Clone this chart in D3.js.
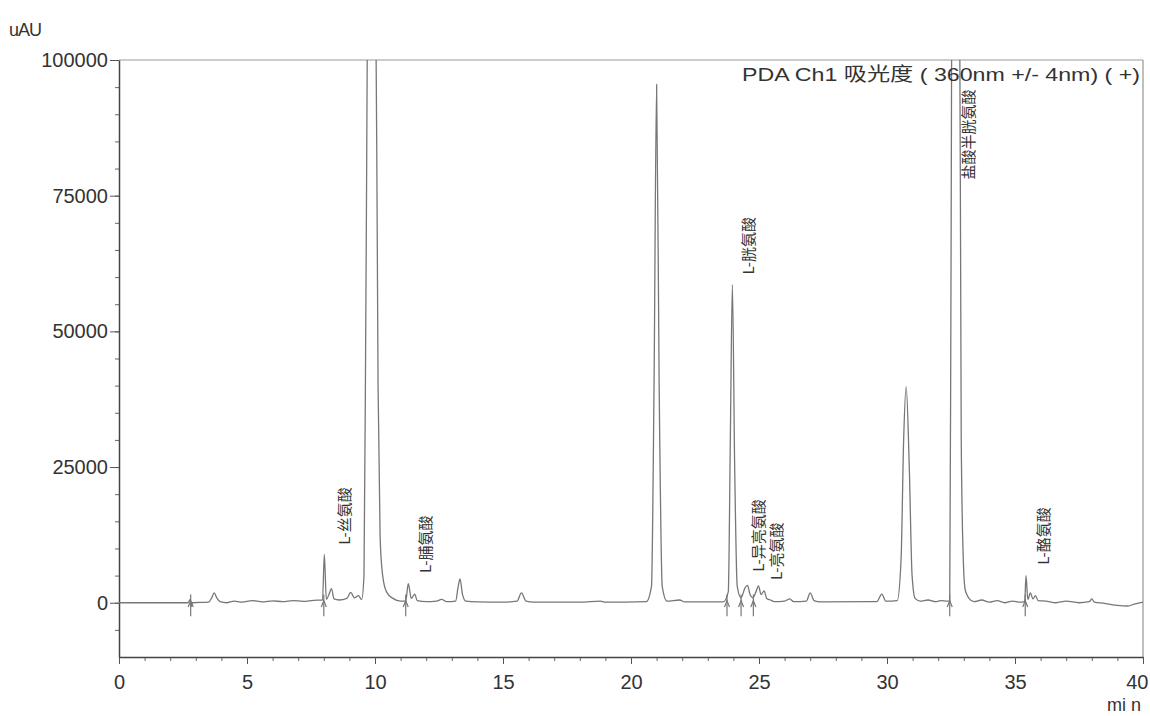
<!DOCTYPE html>
<html>
<head>
<meta charset="utf-8">
<script src="https://cdn.jsdelivr.net/npm/d3@7"></script>
<style>
  body { margin: 0; background: #fff; }
  svg { display: block; font-family: "Liberation Sans", Arial, sans-serif; }
</style>
</head>
<body>
<svg id="svg" width="1150" height="716"></svg>
<script>
// chromatogram trace (min, uAU)
const traceTime = [
  0, 2.7, 2.78, 2.82, 2.86, 3.5, 3.62, 3.72, 3.82, 3.95, 4.2, 4.5, 4.8, 5.2, 5.6, 6.0, 6.4, 6.8, 7.2, 7.6,
  7.95, 8.02, 8.1, 8.2, 8.3, 8.4, 8.6, 8.9, 9.05, 9.2, 9.35, 9.48, 9.57, 9.65, 9.75, 10.0, 10.12, 10.2, 10.3, 10.45,
  10.7, 11.0, 11.2, 11.3, 11.42, 11.55, 11.65, 12.0, 12.4, 12.6, 12.8, 13.15, 13.25, 13.32, 13.42, 13.55, 14.0, 15.0, 15.55, 15.72,
  15.9, 16.2, 18.0, 18.8, 19.0, 20.6, 20.8, 20.9, 21.0, 21.1, 21.22, 21.4, 21.9, 22.1, 23.6, 23.8, 23.88, 23.96, 24.05, 24.15,
  24.3, 24.45, 24.55, 24.65, 24.75, 24.88, 24.98, 25.08, 25.2, 25.3, 25.45, 25.6, 26.0, 26.2, 26.35, 26.85, 27.0, 27.15, 27.4, 29.6,
  29.8, 29.95, 30.4, 30.55, 30.65, 30.75, 30.87, 30.98, 31.1, 31.3, 31.6, 31.9, 32.1, 32.35, 32.45, 32.5, 32.55, 32.82, 32.9, 32.98,
  33.05, 33.12, 33.2, 33.4, 33.7, 34.0, 34.3, 34.6, 34.9, 35.2, 35.38, 35.43, 35.5, 35.6, 35.7, 35.8, 35.9, 36.2, 36.6, 37.0,
  37.5, 37.9, 38.0, 38.1, 38.5, 39.0, 39.4, 39.7, 40.0
];
const traceUAU = [
  0, 0, 600, -700, 0, 100, 900, 1800, 900, 200, 0, 300, 100, 400, 150, 350, 200, 400, 250, 450,
  500, 8900, 600, 1500, 2600, 700, 500, 800, 1900, 900, 1300, 600, 5000, 60000, 130000, 130000, 40000, 12000, 5000, 2000,
  800, 300, 300, 3500, 800, 1600, 400, 200, 300, 600, 200, 300, 3000, 4400, 1500, 300, 150, 100, 300, 1800,
  300, 100, 100, 300, 100, 200, 3000, 40000, 95500, 40000, 3000, 300, 500, 150, 150, 2000, 30000, 58600, 25000, 3000,
  900, 2700, 3200, 1500, 900, 2000, 3100, 1500, 2200, 800, 500, 200, 300, 700, 200, 300, 1800, 400, 150, 200,
  1600, 300, 400, 8000, 30000, 39800, 25000, 5000, 800, 300, 500, 200, 400, 300, 300, 60000, 130000, 130000, 30000, 8000,
  2500, 1500, 800, 200, 500, 100, 400, 0, 300, 100, 200, 5000, 600, 1800, 700, 1300, 400, 300, 0, 300,
  0, 200, 700, 100, -100, -500, -600, -200, 100
];

// integration start marks
const markTimes = [2.8, 8.0, 11.2, 23.75, 24.3, 24.78, 32.45, 35.4];

// peak names and where they sit
const peakNames = ["L-丝氨酸", "L-脯氨酸", "L-胱氨酸", "L-异亮氨酸", "L-亮氨酸", "盐酸半胱氨酸", "L-酪氨酸"];
const peakLabelTimes = [8.75, 11.95, 24.57, 24.96, 25.66, 33.16, 36.09];
const peakLabelUAU = [10700, 5500, 60500, 5700, 4200, 78000, 7000];

const xTicks = [0, 5, 10, 15, 20, 25, 30, 35, 40];
const yTicks = [0, 25000, 50000, 75000, 100000];
const titleText = "PDA Ch1 吸光度 ( 360nm +/-  4nm) ( +)";

let svg = d3.select("#svg");
const plotLeft = 119, plotRight = 1143, plotTop = 60, plotBottom = 657;

let x = d3.scaleLinear().domain([0, 40]).range([plotLeft, plotRight]);
let y = d3.scaleLinear().domain([-10000, 100000]).range([plotBottom, plotTop]);

svg.append("defs").append("clipPath").attr("id", "plot")
    .append("rect").attr("x", plotLeft).attr("y", plotTop)
    .attr("width", plotRight - plotLeft).attr("height", plotBottom - plotTop);

// frame (top/right lighter)
svg.append("line").attr("x1", plotLeft).attr("x2", plotRight).attr("y1", plotTop).attr("y2", plotTop)
    .attr("stroke", "#999").attr("stroke-width", 1.2);
svg.append("line").attr("x1", plotRight).attr("x2", plotRight).attr("y1", plotTop).attr("y2", plotBottom)
    .attr("stroke", "#aaa").attr("stroke-width", 1.5);

// x axis: minor then major
svg.append("g").attr("transform", `translate(0,${plotBottom})`)
    .call(d3.axisBottom(x).tickValues(d3.range(0, 41, 1)).tickSize(4).tickFormat(""))
    .call(g => g.select(".domain").remove())
    .selectAll("line").attr("stroke", "#666");
let xAxis = svg.append("g").attr("transform", `translate(0,${plotBottom})`)
    .call(d3.axisBottom(x).tickValues(xTicks).tickSize(7).tickSizeOuter(0).tickPadding(11));
xAxis.select(".domain").attr("stroke", "#444").attr("stroke-width", 1.5);
xAxis.selectAll("line").attr("stroke", "#555");
xAxis.selectAll("text").attr("font-size", 20).attr("fill", "#333")
    .attr("font-family", "Liberation Sans, Arial, sans-serif");
// last label sits left of its tick so it stays on the page
xAxis.selectAll("text").filter(d => d === 40).attr("text-anchor", "end").attr("x", 5);

// y axis
svg.append("g").attr("transform", `translate(${plotLeft},0)`)
    .call(d3.axisLeft(y).tickValues(d3.range(-5000, 100001, 5000)).tickSize(4).tickFormat(""))
    .call(g => g.select(".domain").remove())
    .selectAll("line").attr("stroke", "#666");
let yAxis = svg.append("g").attr("transform", `translate(${plotLeft},0)`)
    .call(d3.axisLeft(y).tickValues(yTicks).tickSize(9).tickSizeOuter(0).tickPadding(2).tickFormat(d3.format("d")));
yAxis.select(".domain").attr("stroke", "#444").attr("stroke-width", 1.5);
yAxis.selectAll("line").attr("stroke", "#555");
yAxis.selectAll("text").attr("font-size", 20).attr("fill", "#333")
    .attr("font-family", "Liberation Sans, Arial, sans-serif");

svg.append("text").attr("x", 9).attr("y", 36).attr("font-size", 18).attr("fill", "#333")
    .attr("letter-spacing", -1).text("uAU");
svg.append("text").attr("x", 1141).attr("y", 711).attr("text-anchor", "end")
    .attr("font-size", 18).attr("fill", "#333").text("mi n");

// trace
let pts = traceTime.map((t, i) => [t, traceUAU[i]]);
let line = d3.line().x(d => x(d[0])).y(d => y(d[1])).curve(d3.curveMonotoneX);
svg.append("path").datum(pts).attr("clip-path", "url(#plot)")
    .attr("d", line).attr("fill", "none")
    .attr("stroke", "#777").attr("stroke-width", 1.3);

// marks
let marks = svg.append("g").attr("stroke", "#777").attr("stroke-width", 1.2);
markTimes.forEach(t => {
    marks.append("line").attr("x1", x(t)).attr("x2", x(t))
        .attr("y1", y(1500)).attr("y2", y(-2500));
    marks.append("path")
        .attr("d", `M${x(t) - 2.5},${y(-800)} L${x(t)},${y(400)} L${x(t) + 2.5},${y(-800)}`)
        .attr("fill", "none");
});

// peak labels, rotated
peakNames.forEach((name, i) => {
    let px = x(peakLabelTimes[i]), py = y(peakLabelUAU[i]);
    svg.append("text")
        .attr("transform", `translate(${px},${py}) rotate(-90)`)
        .attr("dominant-baseline", "central")
        .attr("font-family", "Noto Sans CJK SC, sans-serif")
        .attr("font-size", 15).attr("fill", "#333")
        .text(name);
});

// title
svg.append("text").attr("x", 1140).attr("y", 81).attr("text-anchor", "end")
    .attr("font-family", "Liberation Sans, Noto Sans CJK SC, sans-serif")
    .attr("font-size", 19).attr("fill", "#333")
    .attr("textLength", 398).attr("lengthAdjust", "spacingAndGlyphs")
    .text(titleText);
</script>
</body>
</html>
